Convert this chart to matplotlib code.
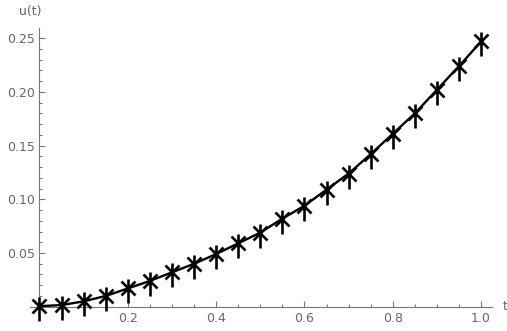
import matplotlib
matplotlib.use("Agg")
import matplotlib.pyplot as plt
from matplotlib.path import Path
from matplotlib.ticker import MultipleLocator, FixedLocator, FuncFormatter

t_values = [0.0, 0.05, 0.1, 0.15, 0.2, 0.25, 0.3, 0.35, 0.4, 0.45, 0.5,
            0.55, 0.6, 0.65, 0.7, 0.75, 0.8, 0.85, 0.9, 0.95, 1.0]
u_values = [0.0005, 0.0015, 0.005, 0.010, 0.017, 0.024, 0.032, 0.040, 0.049, 0.059, 0.069,
            0.082, 0.094, 0.109, 0.124, 0.142, 0.161, 0.180, 0.202, 0.224, 0.247]
x_ticks = [0.2, 0.4, 0.6, 0.8, 1.0]
y_ticks = [0.05, 0.10, 0.15, 0.20, 0.25]

gray = "#777777"
label_gray = "#666666"

# asterisk marker with longer lower vertical stroke
verts = [(-7, -7), (7, 7), (-7, 7), (7, -7), (0, 9), (0, -15)]
codes = [Path.MOVETO, Path.LINETO, Path.MOVETO, Path.LINETO, Path.MOVETO, Path.LINETO]
star = Path(verts, codes)

fig = plt.figure(figsize=(5.07, 3.31), dpi=100)
ax = fig.add_axes([30/507, 1 - 306.7/331, (491.7 - 30)/507, (306.7 - 28)/331])
ax.set_xlim(-0.0215, 1.024)
ax.set_ylim(0, 0.2595)

ax.plot(t_values, u_values, color="black", lw=1.7, zorder=3, clip_on=False)
ax.plot(t_values, u_values, linestyle="none", marker=star, markersize=21.6,
        markeredgecolor="black", markerfacecolor="none", markeredgewidth=1.9,
        zorder=4, clip_on=False)

for s in ["top", "right"]:
    ax.spines[s].set_visible(False)
ax.spines["left"].set_position(("data", 0))
ax.spines["bottom"].set_position(("data", 0))
ax.spines["left"].set_bounds(0, 0.2595)
for s in ["left", "bottom"]:
    ax.spines[s].set_color(gray)
    ax.spines[s].set_linewidth(0.8)

ax.xaxis.set_major_locator(FixedLocator(x_ticks))
ax.yaxis.set_major_locator(FixedLocator(y_ticks))
ax.xaxis.set_minor_locator(MultipleLocator(0.05))
ax.yaxis.set_minor_locator(MultipleLocator(0.01))
ax.xaxis.set_major_formatter(FuncFormatter(lambda v, p: f"{v:.1f}"))
ax.yaxis.set_major_formatter(FuncFormatter(lambda v, p: f"{v:.2f}"))

ax.tick_params(axis="both", which="both", direction="in", color=gray, width=0.8,
               labelcolor=label_gray, labelsize=9)
ax.tick_params(axis="both", which="major", length=4)
ax.tick_params(axis="both", which="minor", length=2.5)
ax.tick_params(axis="x", pad=4)
ax.tick_params(axis="y", pad=3)

ax.text(0, 1.035, "u(t)", transform=ax.transAxes, ha="center", va="bottom",
        fontsize=9, color=label_gray)
ax.annotate("t", xy=(1.0, 0), xycoords=("axes fraction", "data"),
            xytext=(8, 0), textcoords="offset points", ha="left", va="center",
            fontsize=9, color=label_gray)

fig.savefig("out.png", dpi=100)
